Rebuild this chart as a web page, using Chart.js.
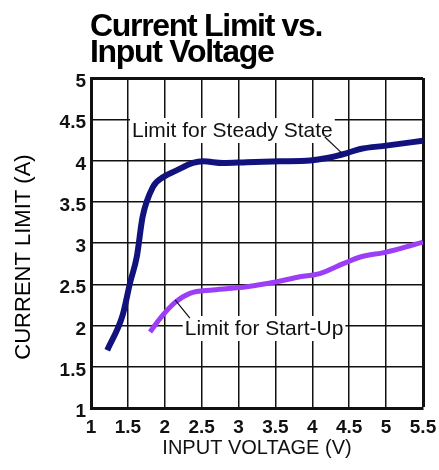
<!DOCTYPE html>
<html>
<head>
<meta charset="utf-8">
<script src="https://cdn.jsdelivr.net/npm/chart.js@4.4.1/dist/chart.umd.min.js"></script>
<style>
  html, body { margin: 0; padding: 0; background: #fff; }
</style>
</head>
<body>
<canvas id="limitChart" width="439" height="470"></canvas>
<script>
// ── Data ─────────────────────────────────────────────────────────────────────
const X_TICKS = [1, 1.5, 2, 2.5, 3, 3.5, 4, 4.5, 5, 5.5];
const Y_TICKS = [1, 1.5, 2, 2.5, 3, 3.5, 4, 4.5, 5];

const steadyVolts = [1.22, 1.43, 1.53, 1.62, 1.70, 1.84, 1.98, 2.16, 2.38, 2.52, 2.79, 3.11, 3.56, 3.97, 4.20, 4.47, 4.65, 5.00, 5.50];
const steadyAmps  = [1.70, 2.13, 2.52, 2.83, 3.32, 3.68, 3.80, 3.88, 3.97, 3.99, 3.97, 3.98, 3.99, 4.00, 4.03, 4.09, 4.14, 4.18, 4.24];

const startVolts  = [1.80, 1.94, 2.14, 2.34, 2.65, 3.11, 3.52, 3.83, 4.10, 4.42, 4.65, 5.00, 5.50];
const startAmps   = [1.92, 2.09, 2.28, 2.39, 2.43, 2.47, 2.53, 2.59, 2.63, 2.75, 2.83, 2.89, 3.01];

const TITLE_LINES = ['Current Limit vs.', 'Input Voltage'];
const X_TITLE = 'INPUT VOLTAGE (V)';
const Y_TITLE = 'CURRENT LIMIT (A)';

// ── Callout labels (data units) ──────────────────────────────────────────────
const NOTES = [
  { text: 'Limit for Steady State', at: [1.556, 4.285], leader: [[4.17, 4.285], [4.40, 4.09]] },
  { text: 'Limit for Start-Up',     at: [2.27, 1.885],  leader: [[2.14, 2.31],  [2.34, 2.09]] },
];

const FONT = "'Liberation Sans', Arial, Helvetica, sans-serif";
const INK  = '#111';

const toPoints = (xs, ys) => xs.map((v, i) => ({ x: v, y: ys[i] }));

// ── Title, y title and callouts ──────────────────────────────────────────────
const decorPlugin = {
  id: 'decor',
  beforeDatasetsDraw(chart) {
    const { ctx, scales: { x, y } } = chart;
    ctx.save();
    ctx.font = `21px ${FONT}`;
    ctx.fillStyle = '#fff';
    NOTES.forEach(n => {
      const px = x.getPixelForValue(n.at[0]);
      const py = y.getPixelForValue(n.at[1]);
      const w  = ctx.measureText(n.text).width;
      ctx.fillRect(px - 2, py - 19, w + 4, 25);
    });
    ctx.restore();
  },
  afterDatasetsDraw(chart) {
    const { ctx, scales: { x, y } } = chart;
    ctx.save();
    ctx.fillStyle = INK;
    ctx.strokeStyle = INK;
    ctx.lineWidth = 1.2;
    ctx.font = `21px ${FONT}`;
    ctx.textBaseline = 'alphabetic';
    NOTES.forEach(n => {
      ctx.fillText(n.text, x.getPixelForValue(n.at[0]), y.getPixelForValue(n.at[1]));
      ctx.beginPath();
      ctx.moveTo(x.getPixelForValue(n.leader[0][0]), y.getPixelForValue(n.leader[0][1]));
      ctx.lineTo(x.getPixelForValue(n.leader[1][0]), y.getPixelForValue(n.leader[1][1]));
      ctx.stroke();
    });

    // chart title, two lines, left aligned with the plot
    ctx.font = `bold 32px ${FONT}`;
    ctx.letterSpacing = '-1.3px';
    ctx.fillStyle = '#000';
    ctx.fillText(TITLE_LINES[0], 90, 36);
    ctx.fillText(TITLE_LINES[1], 90, 62);
    ctx.letterSpacing = '0px';

    // y axis title
    ctx.translate(24, 257);
    ctx.rotate(-Math.PI / 2);
    ctx.font = `22px ${FONT}`;
    ctx.textAlign = 'center';
    ctx.textBaseline = 'middle';
    ctx.fillText(Y_TITLE, 0, 0);
    ctx.restore();
  },
};

Chart.defaults.font.family = FONT;
Chart.defaults.color = INK;

new Chart(document.getElementById('limitChart'), {
  type: 'line',
  data: {
    datasets: [
      {
        label: 'Limit for Steady State',
        data: toPoints(steadyVolts, steadyAmps),
        borderColor: '#12127e',
        borderWidth: 6,
        pointRadius: 0,
        cubicInterpolationMode: 'monotone',
      },
      {
        label: 'Limit for Start-Up',
        data: toPoints(startVolts, startAmps),
        borderColor: '#9b3ef5',
        borderWidth: 5,
        pointRadius: 0,
        cubicInterpolationMode: 'monotone',
      },
    ],
  },
  options: {
    responsive: false,
    animation: false,
    layout: { padding: { top: 78, right: 16, left: 0, bottom: 0 } },
    plugins: {
      legend: { display: false },
      tooltip: { enabled: false },
    },
    scales: {
      x: {
        type: 'linear',
        min: X_TICKS[0],
        max: X_TICKS[X_TICKS.length - 1],
        afterBuildTicks(axis) { axis.ticks = X_TICKS.map(v => ({ value: v })); },
        afterFit(axis) {
          axis.height = 62;
          axis.paddingLeft = 0;
          axis.paddingRight = 0;
        },
        grid: {
          color: INK,
          lineWidth: c => (c.tick && c.tick.value === 5.5 ? 3 : 1.5),
          drawTicks: false,
        },
        border: { color: INK, width: 3 },
        ticks: {
          padding: 8,
          color: INK,
          font: { size: 19, weight: 'bold' },
          maxRotation: 0,
          callback: v => String(v),
        },
        title: {
          display: true,
          text: X_TITLE,
          color: INK,
          font: { size: 20 },
          padding: { top: 0, bottom: 10 },
        },
      },
      y: {
        type: 'linear',
        min: Y_TICKS[0],
        max: Y_TICKS[Y_TICKS.length - 1],
        afterBuildTicks(axis) { axis.ticks = Y_TICKS.map(v => ({ value: v })); },
        afterFit(axis) {
          axis.width = 91;
          axis.paddingTop = 0;
          axis.paddingBottom = 0;
        },
        grid: {
          color: INK,
          lineWidth: c => (c.tick && c.tick.value === 5 ? 3 : 1.5),
          drawTicks: false,
        },
        border: { color: INK, width: 3 },
        ticks: {
          padding: 5,
          labelOffset: 4,
          color: INK,
          font: { size: 19, weight: 'bold' },
          callback: v => String(v),
        },
      },
    },
  },
  plugins: [decorPlugin],
});
</script>
</body>
</html>
